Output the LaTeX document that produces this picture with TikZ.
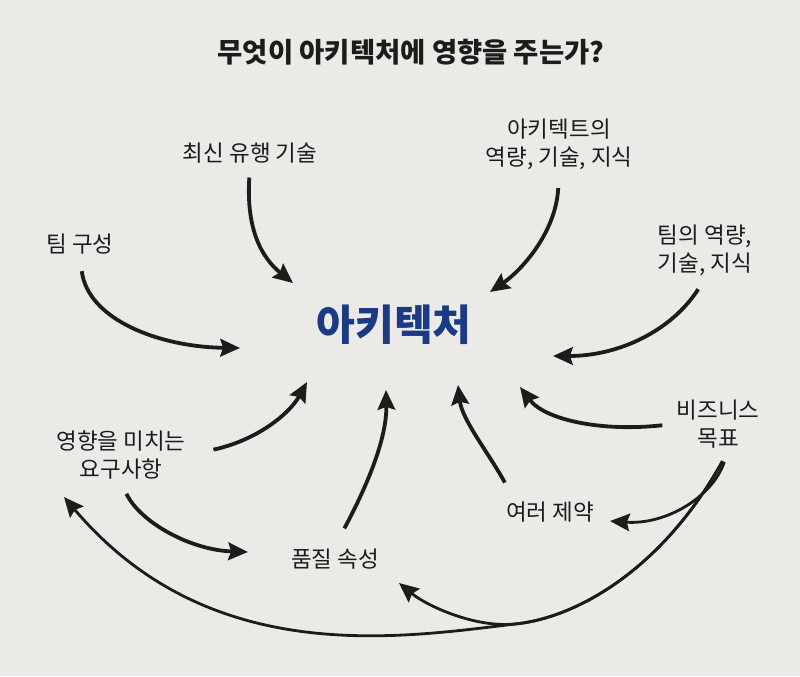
\documentclass[tikz,border=0pt]{standalone}
\usepackage{fontspec}
\setmainfont{Noto Sans CJK KR}
\usepackage{tikz}
\usepackage{xcolor}
\usetikzlibrary{arrows.meta}
\definecolor{pagebg}{HTML}{ECEAE7}
\definecolor{ink}{HTML}{1C1C1C}
\definecolor{archblue}{HTML}{1B3A86}
\tikzset{
  factor/.style={
    align=center, inner sep=2pt, text=ink,
    font=\fontsize{16}{20}\selectfont
  },
  headline/.style={
    inner sep=2pt, text=ink,
    font=\fontsize{19.5}{23}\selectfont\bfseries
  },
  centerword/.style={
    inner sep=2pt, text=archblue,
    font=\fontsize{30}{33}\selectfont\bfseries
  },
  influence/.style={
    draw=ink, line width=2.7pt,
    -{Stealth[length=14pt,width=12.5pt,inset=2pt]}
  },
  goalline/.style={influence, line width=2pt}
}

\begin{document}
\begin{tikzpicture}[x=0.025cm,y=-0.025cm]
  \fill[pagebg] (0,0) rectangle (800,676);
  \useasboundingbox (0,0) rectangle (800,676);

  \node[headline] (title) at (411,52) {무엇이 아키텍처에 영향을 주는가?};
  \node[centerword] (arch) at (394,325) {아키텍처};

  \node[factor] (trend) at (250,153) {최신 유행 기술};
  \node[factor] (architect) at (559,144) {아키텍트의\\역량, 기술, 지식};
  \node[factor] (team) at (80,244) {팀 구성};
  \node[factor] (teamskill) at (705,250) {팀의 역량,\\기술, 지식};
  \node[factor] (req) at (121,455) {영향을 미치는\\요구사항};
  \node[factor] (goal) at (718,424) {비즈니스\\목표};
  \node[factor] (constraint) at (550,512) {여러 제약};
  \node[factor] (quality) at (335,559) {품질 속성};

  % where the arrows meet around the centre
  \coordinate (inTrend) at (293,283);
  \coordinate (inTeam) at (240,348);
  \coordinate (inArchitect) at (490,292);
  \coordinate (inTeamskill) at (553,356);
  \coordinate (inGoal) at (520,387);
  \coordinate (inConstraint) at (458,385);
  \coordinate (inQuality) at (386,390);
  \coordinate (inReq) at (307,382);
  \coordinate (reqToQuality) at (248,552);
  \coordinate (goalToQuality) at (399,583);
  \coordinate (goalToConstraint) at (610,521);
  \coordinate (goalToReq) at (64,497);
  \coordinate (fork) at (515,624);

  \draw[influence,shorten <=8pt] (trend.south) .. controls (246,230) and (262,258) .. (inTrend);
  \draw[influence,shorten <=10pt] (team.south) .. controls (88,320) and (160,347) .. (inTeam);
  \draw[influence,shorten <=11pt] (architect.south) .. controls (556,232) and (522,270) .. (inArchitect);
  \draw[influence,shorten <=9pt] (teamskill.south) .. controls (672,330) and (620,356) .. (inTeamskill);
  \draw[influence,shorten <=8pt] (goal.west) .. controls (602,432) and (545,420) .. (inGoal);
  \draw[influence,shorten <=13pt] (constraint.160) .. controls (490,455) and (462,420) .. (inConstraint);
  \draw[influence,shorten <=14pt] (quality.north) .. controls (365,490) and (387,440) .. (inQuality);
  \draw[influence,shorten <=18pt] (req.east) .. controls (258,440) and (290,413) .. (inReq);
  \draw[influence,shorten <=9pt] (req.south) .. controls (140,522) and (190,550) .. (reqToQuality);

  \draw[goalline,shorten <=8pt] (goal.-70) .. controls (712,498) and (665,525) .. (goalToConstraint);
  \draw[goalline,shorten <=8pt] (goal.-70) .. controls (662,570) and (576,618) .. (fork)
    .. controls (475,628) and (427,606) .. (goalToQuality);
  \draw[goalline,shorten <=8pt] (goal.-70) .. controls (662,570) and (576,618) .. (fork)
    .. controls (398,638) and (209,668) .. (goalToReq);
\end{tikzpicture}
\end{document}
